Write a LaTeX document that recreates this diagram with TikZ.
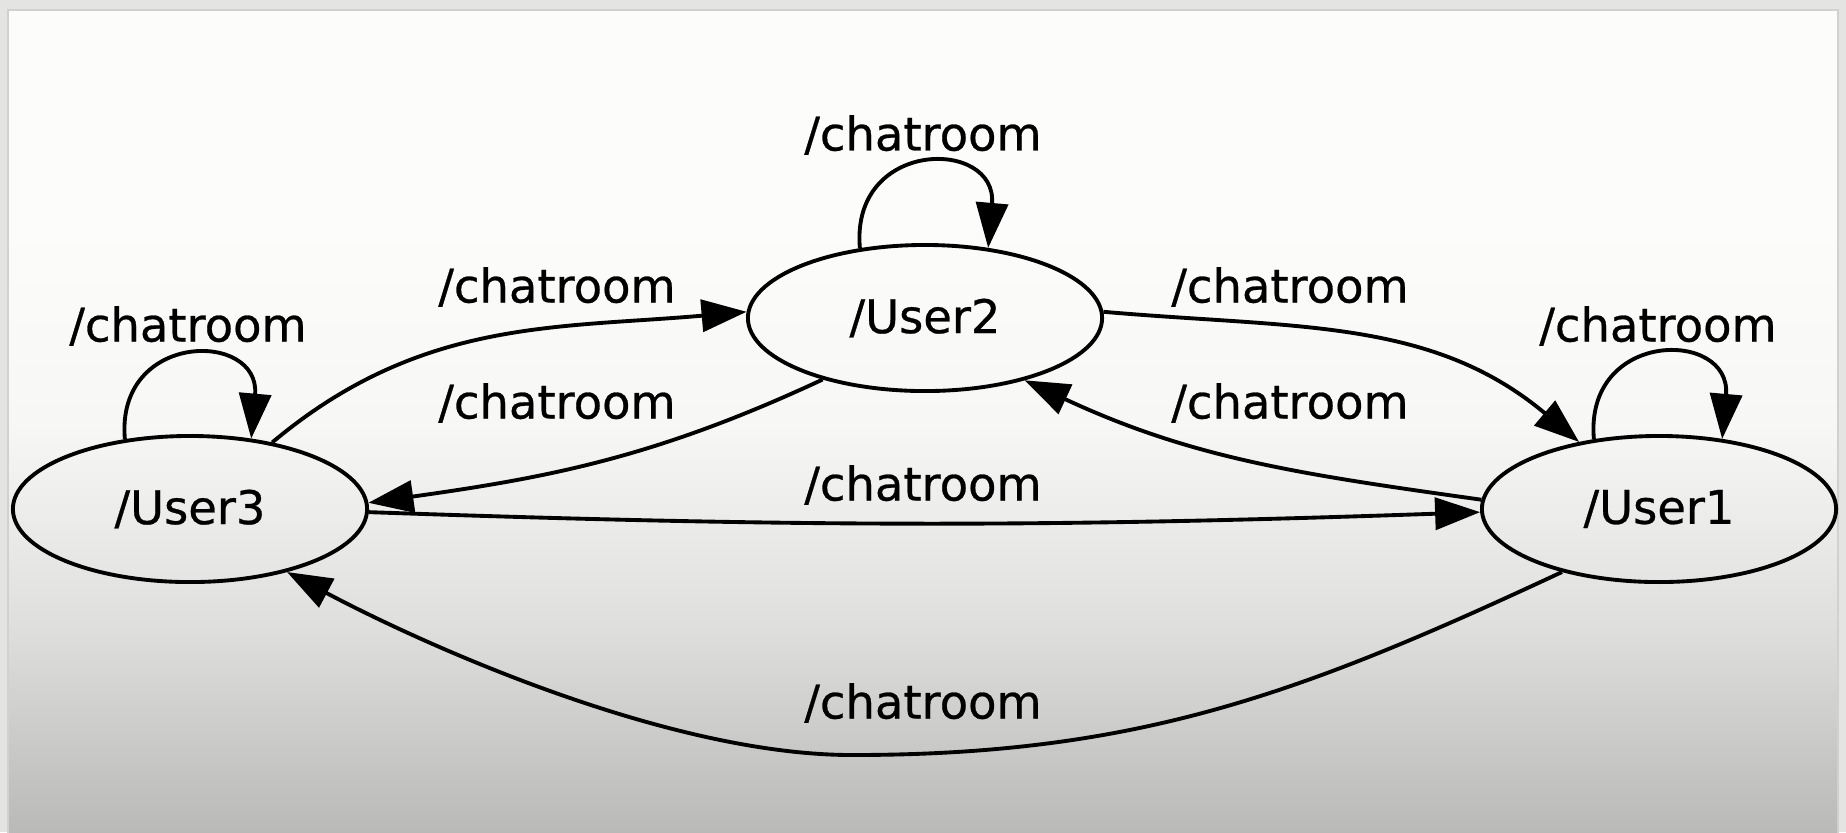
\documentclass[tikz,border=0pt]{standalone}
\usepackage{fontspec}
\setmainfont[FakeBold=0.6]{DejaVu Sans}
\usetikzlibrary{shapes.geometric}
\usetikzlibrary{arrows.meta}
\definecolor{frame}{HTML}{E4E4E2}
\definecolor{bgtop}{HTML}{FCFCFA}
\definecolor{bglight}{HTML}{F7F7F5}
\definecolor{bgmid}{HTML}{DFDFDD}
\definecolor{bgbot}{HTML}{B8B8B6}
\pgfdeclareverticalshading{screen}{100bp}{color(0bp)=(bgbot); color(25bp)=(bgbot);
  color(38bp)=(bgmid); color(50bp)=(bglight); color(62bp)=(bgtop); color(75bp)=(bgtop); color(100bp)=(bgtop)}

\begin{document}
\begin{tikzpicture}[x=0.01cm,y=-0.01cm,line width=1.1pt,
    user/.style={draw,ellipse,minimum width=3.54cm,minimum height=1.46cm,inner sep=0pt,
      font=\fontsize{13.2}{15}\selectfont},
    lbl/.style={inner sep=0pt,font=\fontsize{13.2}{15}\selectfont},
    >={Triangle[length=4.5mm,width=3.2mm]}]
    \useasboundingbox (0,0) rectangle (1846,832);
    % screen background
    \fill[frame] (0,0) rectangle (1846,832);
    \shade[shading=screen,draw=black!18,thin] (8,10) rectangle (1838,840);

    \node[user] (u2) at (925,318) {/User2};
    \node[user] (u3) at (190,509) {/User3};
    \node[user] (u1) at (1659,509) {/User1};
    \coordinate (bottom) at (852,755);

    % self loops
    \draw[->] (u2.133) to[out=95,in=85,looseness=2.2] (u2.48);
    \draw[->] (u3.133) to[out=95,in=85,looseness=2.2] (u3.49);
    \draw[->] (u1.133) to[out=95,in=85,looseness=2.2] (u1.48);
    \node[lbl] (l22) at (923,135) {/chatroom};
    \node[lbl] (l33) at (188,326) {/chatroom};
    \node[lbl] (l11) at (1658,326) {/chatroom};

    % between users
    \draw[->] (u3.39) to[out=40,in=185] (u2.178);
    \draw[->] (u2.211) to[out=205,in=8] (u3.2);
    \draw[->] (u2.2) to[out=-5,in=140] (u1.140);
    \draw[->] (u1.177) to[out=172,in=-25] (u2.328);
    \draw[->] (u3.-1) to[out=-2,in=182] (u1.181);
    \draw[->] (u1.213) to[out=205,in=0] (bottom)
      to[out=180,in=-28,out looseness=0.8,in looseness=0.65] (u3.327);
    \node[lbl] (l32) at (557,287) {/chatroom};
    \node[lbl] (l23) at (557,403) {/chatroom};
    \node[lbl] (l21) at (1290,287) {/chatroom};
    \node[lbl] (l12) at (1290,403) {/chatroom};
    \node[lbl] (l31) at (923,485) {/chatroom};
    \node[lbl] (l13) at (923,703) {/chatroom};
\end{tikzpicture}
\end{document}
